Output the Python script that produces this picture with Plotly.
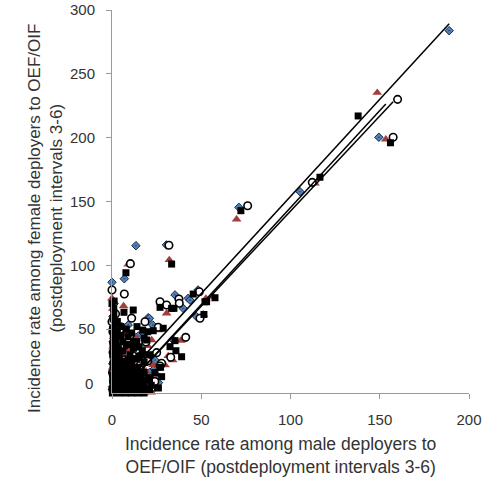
import plotly.graph_objects as go

# ---- data ----
dia_x = [188.9, 149.5, 105.3, 71.1, 30.5, 13.4, 6.9, 0.0, 20.3, 35.3, 42.7, 47.4, 48.2, 39.9, 43.7,
         9.1, 20.9, 22.8, 14.7, 34.0, 24.1, 23.1, 25.4, 11.9,
         0.3, 0.7, 0.4, 1.0, 0.6, 0.9, 0.5, 1.2, 2.5, 3.0, 4.0, 5.0, 6.0, 7.0, 8.0, 9.0, 10.0,
         11.0, 12.0, 13.0, 14.0, 16.0, 17.0, 19.0, 21.0, 23.0, 15.0, 5.0, 8.0, 18.0, 8.5,
         3.2, 5.5, 17.5, 26.0, 13.5]
dia_y = [283.8, 200.3, 157.7, 145.4, 116.0, 115.4, 89.5, 86.7, 59.0, 76.8, 74.2, 59.8, 80.7, 66.3, 72.8,
         53.3, 58.5, 53.3, 44.6, 42.0, 25.8, 18.0, 13.3, 4.9,
         5, 14, 23, 31, 40, 50, 60, 70, 10, 19, 2, 8, 16, 22, 3, 11, 26,
         7, 19, 14, 2, 10, 25, 6, 16, 3, 32, 29, 36, 38, 1,
         44, 52, 47, 8, 30]

tri_x = [148.6, 153.4, 113.7, 69.8, 32.1, 9.1, 0.0, 6.5, 11.0, 30.6, 51.1, 56.7, 52.6,
         25.9, 22.2, 12.9, 38.5, 31.5, 34.0, 29.7, 23.1, 11.9,
         0.3, 0.7, 0.4, 1.0, 0.6, 0.9, 0.5, 1.3, 0.4, 2.0, 2.5, 3.0, 3.5, 4.5, 5.5, 6.5, 7.5,
         8.5, 9.5, 10.5, 11.5, 13.0, 14.0, 16.0, 18.0, 19.0, 21.0, 23.0, 25.0, 16.0, 6.0, 9.0, 3.0,
         2.0, 6.0, 10.0, 14.0, 18.0, 22.0, 7.0, 13.0, 20.0]
tri_y = [235.2, 198.7, 164.2, 136.0, 104.2, 100.8, 74.2, 68.1, 60.5, 62.4, 61.6, 75.4, 74.0,
         49.3, 41.5, 35.7, 41.0, 29.0, 25.8, 21.9, 12.8, 4.9,
         4, 12, 20, 28, 36, 44, 52, 60, 66, 8, 16, 24, 3, 10, 18, 7, 13,
         22, 4, 16, 25, 6, 13, 21, 6, 17, 9, 22, 3, 30, 30, 34, 40,
         0.0, 0.5, 0.0, 0.3, 0.5, 0.4, 46, 44, 37]

cir_x = [160.0, 157.5, 112.2, 76.0, 31.9, 10.3, 0.0, 6.9, 26.9, 30.6, 37.5, 37.7, 48.9, 49.3,
         11.0, 0.0, 18.5, 25.9, 41.3, 32.9, 27.8, 26.9, 21.3, 25.0,
         0.4, 0.8, 0.3, 1.0, 0.6, 0.9, 0.5, 2.0, 2.4, 3.0, 4.0, 5.0, 6.0, 7.0, 8.0, 9.0, 10.0,
         11.0, 12.0, 13.0, 15.0, 16.0, 18.0, 20.0, 22.0, 24.0, 14.0, 7.0, 3.0,
         19.0, 10.0, 4.5]
cir_y = [230.0, 200.3, 165.0, 146.7, 115.7, 101.3, 80.7, 77.5, 71.5, 68.9, 73.6, 70.3, 79.3, 58.5,
         58.5, 55.8, 55.8, 51.5, 43.6, 28.0, 23.3, 21.1, 10.7, 31.6,
         3, 9, 16, 24, 32, 40, 48, 62, 6, 13, 20, 4, 11, 26, 16, 8, 22,
         3, 12, 29, 8, 18, 12, 25, 4, 9, 34, 37, 30,
         40, 45, 50]

sq_x = [137.9, 156.0, 116.5, 72.2, 33.4, 7.8, 0.0, 6.7, 11.9, 26.9, 33.4, 34.7, 45.5, 52.1,
        51.5, 57.7, 53.0, 17.2, 23.1, 28.7, 19.4, 13.8, 35.3, 32.5, 35.8, 39.0, 27.2, 27.8,
        0.5, 0.5, 0.8, 0.3, 1.0, 0.6, 1.2, 0.4, 0.9, 0.5, 1.1, 0.7, 0.3, 1.5, 0.6, 1.0,
        2.5, 2.2, 2.8, 2.4, 3.0, 2.0,
        4, 5, 6, 7, 8, 9, 10, 11, 12, 4, 5, 6, 7, 8, 9, 10, 11, 12, 13, 14, 15, 16, 17, 18,
        19, 20, 21, 22, 24, 26, 15, 17, 13, 3, 4, 6, 8, 10, 12, 3, 5,
        0.2, 1.5, 2.0, 2.0, 2.0, 2.0, 2.0, 2.0, 2.0, 2.0, 3.5, 3.5, 3.5, 3.5, 3.5,
        4.0, 4.0, 4.0, 4.0, 4.0, 4.0, 7.5, 7.5, 7.5, 7.5, 7.5, 7.5, 11.0, 11.0, 11.0, 11.0, 11.0, 11.0,
        14.5, 14.5, 14.5, 14.5, 14.5, 18.0, 18.0, 18.0, 18.0, 21.0, 21.0,
        4.0, 6.0, 9.0, 12.0, 15.0, 18.0, 20.0, 8.0, 14.0, 11.0, 17.0, 5.0, 3.0, 10.0, 1.0, 1.2]
sq_y = [217.0, 196.0, 169.0, 142.8, 101.0, 94.2, 70.0, 63.2, 65.0, 67.1, 66.3, 66.3, 77.5, 71.5,
        61.5, 74.6, 71.5, 49.3, 48.8, 50.7, 41.5, 40.2, 41.0, 36.3, 33.1, 28.4, 20.1, 12.8,
        2, 6, 10, 14, 18, 22, 26, 30, 34, 38, 42, 46, 50, 54, 58, 62,
        5, 12, 20, 28, 36, 44,
        2, 6, 3, 9, 5, 12, 2, 8, 15, 14, 19, 24, 17, 21, 26, 18, 23, 5, 10, 20, 3, 14, 8, 24,
        2, 12, 30, 6, 16, 4, 28, 33, 27, 8, 24, 33, 38, 30, 35, 48, 52,
        0.0, 0.5, 1, 7, 15, 23, 31, 39, 47, 55, 2, 10, 18, 26, 34,
        0, 5, 10, 15, 20, 25, 0, 5, 10, 15, 20, 25, 0, 5, 10, 15, 20, 25,
        0, 5, 10, 15, 20, 0, 5, 10, 16, 2, 11,
        30, 40, 44, 40, 36, 43, 48, 50, 52, 47, 30, 45, 56, 38, 66, 72]

# linear trend lines: slope, intercept, x range (as fitted per series)
trend_names = ["diamonds", "triangles", "circles"]
trend_slope = [1.522, 1.519, 1.49]
trend_inter = [1.8, -6.7, -6.5]
trend_xmin = [0.0, 0.0, 0.0]
trend_xmax = [188.9, 153.4, 157.5]

x_ticks = [0, 50, 100, 150, 200]
y_ticks = [50, 100, 150, 200, 250, 300]

TXT = "#333333"
AX = "#9a9a9a"
FONT = "Liberation Sans, Arial, sans-serif"

fig = go.Figure()
fig.add_trace(go.Scatter(x=dia_x, y=dia_y, mode="markers", cliponaxis=False,
                         marker=dict(symbol="diamond-dot", size=6.5, color="#4F81BD",
                                     line=dict(color="#16263d", width=1))))
fig.add_trace(go.Scatter(x=tri_x, y=tri_y, mode="markers", cliponaxis=False,
                         marker=dict(symbol="triangle-up", size=8.5, color="#A23E3B",
                                     line=dict(width=0))))
fig.add_trace(go.Scatter(x=cir_x, y=cir_y, mode="markers", cliponaxis=False,
                         marker=dict(symbol="circle", size=7.5, color="white",
                                     line=dict(color="black", width=1.6))))
fig.add_trace(go.Scatter(x=sq_x, y=sq_y, mode="markers", cliponaxis=False,
                         marker=dict(symbol="square", size=7, color="black",
                                     line=dict(width=0))))
for s, b, x0, x1 in zip(trend_slope, trend_inter, trend_xmin, trend_xmax):
    fig.add_trace(go.Scatter(x=[x0, x1], y=[s * x0 + b, s * x1 + b], mode="lines",
                             cliponaxis=True, line=dict(color="black", width=1.5)))

fig.update_layout(
    width=494, height=477, showlegend=False,
    margin=dict(l=112, r=25, t=10, b=84, autoexpand=False),
    paper_bgcolor="white", plot_bgcolor="white",
    font=dict(family=FONT, size=15, color=TXT),
    xaxis=dict(range=[0, 200], tickvals=x_ticks, ticks="outside", ticklen=5, tickcolor=AX,
               showline=True, linecolor=AX, linewidth=1, showgrid=False, zeroline=False,
               ticklabelstandoff=8, ticklabeloverflow="allow", tickfont=dict(size=15, color=TXT)),
    yaxis=dict(range=[0, 300], tickvals=y_ticks, ticks="outside", ticklen=5, tickcolor=AX,
               showline=True, linecolor=AX, linewidth=1, showgrid=False, zeroline=False,
               ticklabelstandoff=8, ticklabeloverflow="allow", tickfont=dict(size=15, color=TXT)),
    annotations=[
        dict(text="0", x=-0.0476, xref="paper", y=7.8, yref="y", xanchor="right",
             yanchor="middle", showarrow=False, font=dict(size=15, color=TXT)),
        dict(text="Incidence rate among male deployers to<br>OEF/OIF (postdeployment intervals 3-6)",
             x=0.4706, y=-0.162, xref="paper", yref="paper", xanchor="center", yanchor="middle",
             showarrow=False, font=dict(size=17.5, color=TXT)),
        dict(text="Incidence rate among female deployers to OEF/OIF<br>(postdeployment intervals 3-6)",
             x=-0.185, y=0.457, xref="paper", yref="paper", xanchor="center", yanchor="middle",
             textangle=-90, showarrow=False, font=dict(size=17, color=TXT)),
    ],
)
fig.write_html("out.html", config={"displayModeBar": False},
               post_script="document.body.style.margin='0';")
